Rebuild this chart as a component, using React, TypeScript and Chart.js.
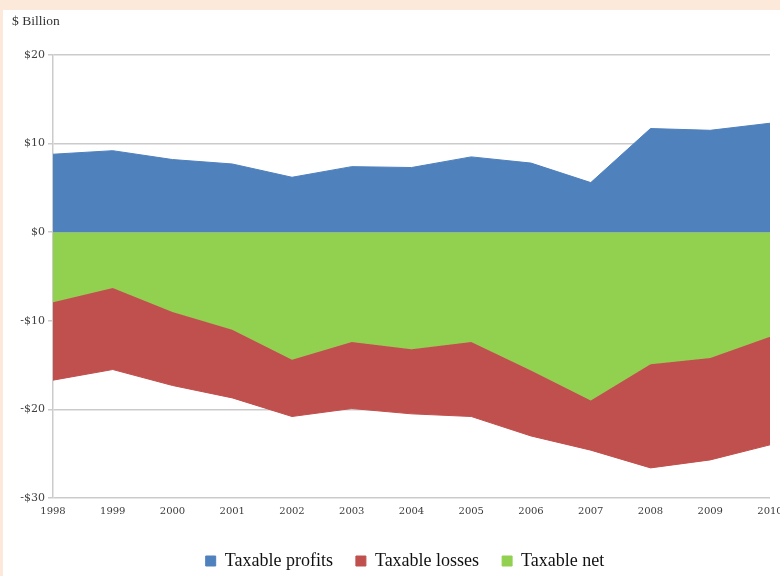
import React, { useEffect, useRef } from "react";
import { Chart, registerables } from "chart.js";

Chart.register(...registerables);

const years = ["1998", "1999", "2000", "2001", "2002", "2003", "2004", "2005", "2006", "2007", "2008", "2009", "2010"];
const taxableProfits = [8.8, 9.2, 8.2, 7.7, 6.2, 7.4, 7.3, 8.5, 7.8, 5.6, 11.7, 11.5, 12.3];
const taxableLosses = [-16.7, -15.5, -17.3, -18.7, -20.8, -19.9, -20.5, -20.8, -23.0, -24.6, -26.6, -25.7, -24.0];
const taxableNet = [-7.9, -6.3, -9.0, -11.0, -14.4, -12.4, -13.2, -12.4, -15.6, -19.0, -14.9, -14.2, -11.8];
const yTicks = [-30, -20, -10, 0, 10, 20];
const unitLabel = "$ Billion";

const BLUE = "#4F81BD";
const RED = "#C0504D";
const GREEN = "#92D050";
const GRID = "#cbcbcb";

export default function App() {
  const ref = useRef<HTMLCanvasElement | null>(null);

  useEffect(() => {
    document.body.style.margin = "0";
    const canvas = ref.current;
    if (!canvas) return;

    const unitPlugin = {
      id: "unitLabel",
      afterDraw(chart: any) {
        const ctx = chart.ctx;
        ctx.save();
        ctx.font = '13.5px "Liberation Serif"';
        ctx.fillStyle = "#333";
        ctx.textAlign = "left";
        ctx.textBaseline = "middle";
        ctx.fillText(unitLabel, 12, 21);
        ctx.restore();
      },
    };

    const legendFitPlugin = {
      id: "legendFit",
      beforeInit(chart: any) {
        const lg = chart.legend;
        if (lg && !lg.__patched) {
          const orig = lg.fit.bind(lg);
          lg.fit = function () {
            orig();
            this.height = 47;
          };
          lg.__patched = true;
        }
      },
      afterLayout(chart: any) {
        const lg = chart.legend;
        if (lg) {
          lg.left += 40;
        }
      },
    };

    const chart = new Chart(canvas, {
      type: "line",
      data: {
        labels: years,
        datasets: [
          {
            label: "Taxable profits",
            data: taxableProfits,
            backgroundColor: BLUE,
            borderColor: BLUE,
            borderWidth: 1,
            pointRadius: 0,
            fill: "origin",
            tension: 0,
          },
          {
            label: "Taxable losses",
            data: taxableLosses,
            backgroundColor: RED,
            borderColor: RED,
            borderWidth: 1,
            pointRadius: 0,
            fill: 2,
            tension: 0,
          },
          {
            label: "Taxable net",
            data: taxableNet,
            backgroundColor: GREEN,
            borderColor: GREEN,
            borderWidth: 1,
            pointRadius: 0,
            fill: "origin",
            tension: 0,
          },
        ],
      },
      options: {
        animation: false,
        responsive: false,
        devicePixelRatio: 1,
        layout: { padding: { left: 0, right: 10, top: 55, bottom: 0 } },
        plugins: {
          tooltip: { enabled: false },
          title: { display: false },
          legend: {
            display: true,
            position: "bottom",
            labels: {
              boxWidth: 10,
              boxHeight: 10,
              padding: 23,
              color: "#111",
              font: { family: '"Liberation Serif"', size: 18 },
              useBorderRadius: false,
            },
          },
        },
        scales: {
          x: {
            offset: false,
            grid: { display: false, drawTicks: false },
            border: { display: false },
            ticks: {
              color: "#3a3a3a",
              font: { family: '"DejaVu Serif"', size: 10 },
              padding: 7,
              maxRotation: 0,
              autoSkip: false,
            },
            afterFit(scale: any) {
              scale.height = 31;
              scale.paddingLeft = 0;
              scale.paddingRight = 0;
            },
          },
          y: {
            min: -30,
            max: 20,
            afterBuildTicks(scale: any) {
              scale.ticks = yTicks.map((v) => ({ value: v }));
            },
            grid: { color: GRID, lineWidth: 1.5, tickLength: 5, drawTicks: true },
            border: { display: true, color: GRID, width: 1.5 },
            ticks: {
              color: "#404040",
              font: { family: '"DejaVu Serif"', size: 11 },
              padding: 3,
              callback: (v: any) => (Number(v) < 0 ? "-$" + Math.abs(Number(v)) : "$" + v),
            },
            afterFit(scale: any) {
              scale.width = 53;
              scale.paddingTop = 0;
              scale.paddingBottom = 0;
            },
          },
        },
      },
      plugins: [legendFitPlugin, unitPlugin],
    } as any);

    return () => chart.destroy();
  }, []);

  return (
    <div style={{ position: "relative", width: 780, height: 576, background: "#FDE9D9", overflow: "hidden" }}>
      <div style={{ position: "absolute", left: 3, top: 10, right: 0, bottom: 0, background: "#ffffff" }} />
      <canvas ref={ref} width={780} height={576} style={{ position: "absolute", left: 0, top: 0, display: "block" }} />
    </div>
  );
}
